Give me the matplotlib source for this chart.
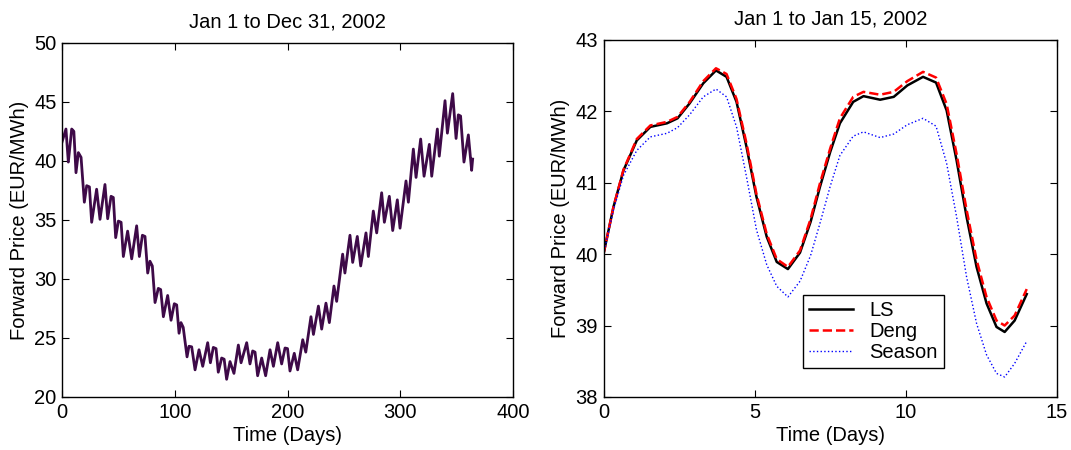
import matplotlib.pyplot as plt

plt.rcParams['font.family'] = ['Liberation Sans', 'DejaVu Sans']
plt.rcParams['font.size'] = 14.5

# left panel: whole year 2002
year_days = [0, 3.5, 5.6, 8.6, 10.5, 12.4, 14.5, 16.9, 19.8, 21.9, 24.3, 26.3,
             30.7, 33.7, 38.1, 40.5, 43.5, 45.5, 47.6, 50, 52.4, 54.4, 58.2,
             61.8, 66.2, 68.6, 71.3, 73.6, 76, 78, 80.1, 82.5, 85.4, 87.5,
             89.9, 93.7, 96.7, 99.6, 101.7, 103.8, 105.5, 107.5, 110.9, 112.6,
             115, 118, 121.5, 124.8, 129.2, 131.6, 134.2, 136.6, 138.6, 141.6,
             143.8, 146, 149, 152.5, 156.4, 158.8, 163.8, 166.7, 169.1, 171.2,
             173.5, 177.1, 180.6, 184.5, 187.5, 191.3, 194.8, 197.8, 200,
             202.2, 206, 209, 213.5, 216.2, 220.8, 223, 227.4, 230.3, 234.1,
             237.1, 241.2, 243.6, 248.9, 250.9, 255.4, 257.8, 261.9, 264.9,
             269.6, 271.7, 276.1, 279.1, 283.5, 285.9, 290.3, 293.3, 297.4,
             299.8, 305.1, 307.2, 311.6, 314, 318.1, 321.1, 325.8, 327.9,
             332.9, 334.6, 339.7, 341.8, 346.5, 349.5, 351.5, 353.5, 356.5,
             360.4, 363.3, 364.2]
year_price = [41.6, 42.7, 39.9, 42.7, 42.5, 39.0, 40.7, 40.3, 36.5, 37.9, 37.8, 34.8,
              37.6, 35.05, 38.0, 35.1, 37.0, 36.9, 33.5, 34.9, 34.8, 31.9, 34.05,
              31.7, 34.5, 31.9, 33.7, 33.6, 30.5, 31.5, 31.1, 28.0, 29.2, 29.1,
              26.8, 28.6, 26.5, 27.9, 27.8, 25.4, 26.3, 25.9, 23.4, 24.3,
              24.25, 22.3, 24.0, 22.6, 24.6, 22.9, 24.2, 24.1, 22.1, 23.3,
              23.2, 21.5, 23.0, 22.0, 24.4, 22.9, 24.6, 22.8, 23.9, 23.8,
              21.8, 23.3, 21.8, 24.0, 22.6, 24.6, 22.8, 24.15, 24.1,
              22.2, 23.7, 22.3, 24.85, 23.8, 26.8, 25.3, 27.7, 25.75, 27.95,
              26.3, 29.4, 28.1, 32.1, 30.5, 33.7, 31.4, 33.6, 31.1,
              33.9, 31.9, 35.75, 33.9, 37.3, 34.8, 37.0, 34.1, 36.7,
              34.3, 38.3, 36.5, 41.0, 38.6, 41.85, 38.7, 41.4, 38.7,
              42.7, 40.4, 45.1, 42.35, 45.7, 41.9, 43.9, 43.8, 39.9,
              42.2, 39.2, 40.15]

# right panel: first two weeks
t = [0, 0.33, 0.66, 1.1, 1.55, 2.1, 2.45, 2.85, 3.3, 3.72, 4.07, 4.4, 4.73,
     5.06, 5.4, 5.73, 6.1, 6.5, 6.85, 7.16, 7.5, 7.82, 8.26, 8.6, 9.15, 9.6,
     10.05, 10.57, 11.0, 11.35, 11.68, 12.01, 12.34, 12.67, 13.0, 13.27, 13.6, 14.0]
ls = [40.00, 40.66, 41.17, 41.59, 41.78, 41.83, 41.90, 42.11, 42.39, 42.57,
      42.48, 42.13, 41.50, 40.80, 40.24, 39.89, 39.79, 40.02, 40.45, 40.94,
      41.43, 41.83, 42.13, 42.21, 42.16, 42.20, 42.36, 42.48, 42.40, 42.01,
      41.31, 40.52, 39.82, 39.31, 38.98, 38.91, 39.07, 39.44]
deng = [40.00, 40.66, 41.18, 41.61, 41.80, 41.85, 41.92, 42.13, 42.42, 42.60,
        42.52, 42.17, 41.55, 40.84, 40.28, 39.93, 39.82, 40.05, 40.49, 40.99,
        41.48, 41.90, 42.20, 42.27, 42.23, 42.27, 42.42, 42.55, 42.47, 42.10,
        41.40, 40.62, 39.92, 39.40, 39.07, 39.00, 39.14, 39.51]
season = [40.00, 40.62, 41.10, 41.45, 41.64, 41.69, 41.77, 41.95, 42.20, 42.31,
          42.20, 41.78, 41.08, 40.34, 39.85, 39.55, 39.40, 39.62, 39.98, 40.43,
          40.95, 41.38, 41.65, 41.71, 41.63, 41.68, 41.81, 41.90, 41.79, 41.27,
          40.52, 39.68, 39.03, 38.59, 38.33, 38.28, 38.47, 38.78]

fig = plt.figure(figsize=(10.71, 4.5), dpi=100)
ax1 = fig.add_axes([0.0579, 0.1178, 0.4211, 0.787])
ax2 = fig.add_axes([0.5635, 0.1178, 0.4234, 0.794])

ax1.plot(year_days, year_price, color='#3e0a48', lw=2)
ax1.set_xlim(0, 400)
ax1.set_ylim(20, 50)
ax1.set_xticks([0, 100, 200, 300, 400])
ax1.set_yticks([20, 25, 30, 35, 40, 45, 50])
ax1.set_title('Jan 1 to Dec 31, 2002', pad=11, fontsize=14.5)

ax2.plot(t, ls, color='black', lw=1.8, label='LS')
ax2.plot(t, deng, color='red', lw=1.8, ls='--', label='Deng')
ax2.plot(t, season, color='blue', lw=1, ls=':', label='Season')
ax2.set_xlim(0, 15)
ax2.set_ylim(38, 43)
ax2.set_xticks([0, 5, 10, 15])
ax2.set_yticks([38, 39, 40, 41, 42, 43])
ax2.set_title('Jan 1 to Jan 15, 2002', pad=11, fontsize=14.5)
leg = ax2.legend(loc='lower left', bbox_to_anchor=(0.44, 0.08), fancybox=False,
                 edgecolor='black', framealpha=1, borderpad=0.3, labelspacing=0.1,
                 handlelength=2.2, handletextpad=0.8, borderaxespad=0)
leg.get_frame().set_linewidth(1)

for ax in (ax1, ax2):
    ax.set_xlabel('Time (Days)', labelpad=3)
    ax.set_ylabel('Forward Price (EUR/MWh)', labelpad=4)
    ax.tick_params(direction='in', top=True, right=True, length=5, pad=4)
    for s in ax.spines.values():
        s.set_linewidth(1)

plt.savefig('out.png', dpi=100)
